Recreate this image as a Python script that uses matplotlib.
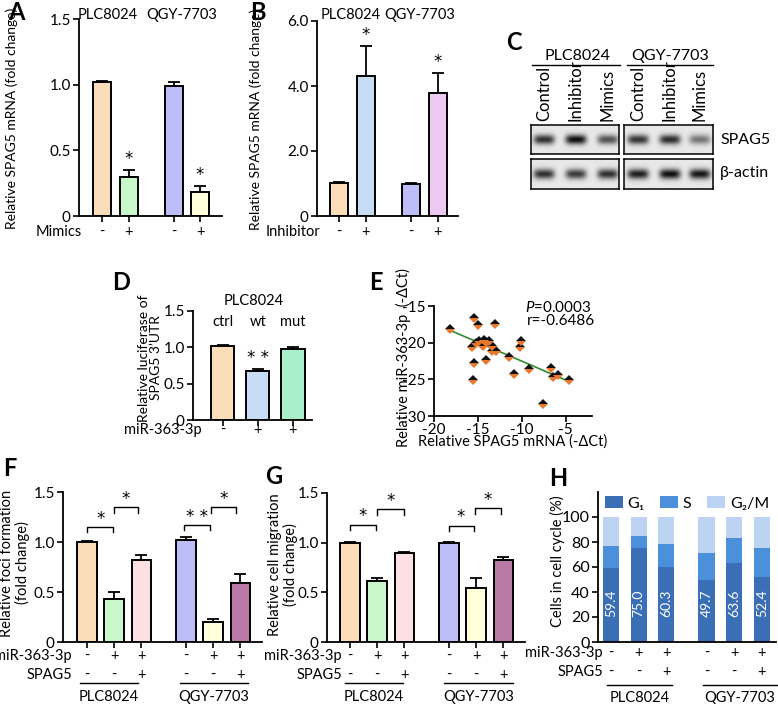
import numpy as np
import matplotlib
matplotlib.use("Agg")
import matplotlib.pyplot as plt
from matplotlib.transforms import blended_transform_factory

plt.rcParams['font.family'] = ['Lato', 'DejaVu Sans']
plt.rcParams['font.size'] = 10.5
plt.rcParams['axes.unicode_minus'] = False
plt.rcParams['mathtext.fontset'] = 'custom'
plt.rcParams['mathtext.it'] = 'Lato:italic'
plt.rcParams['mathtext.rm'] = 'Lato'

# ---- data ----
cells = ['PLC8024', 'QGY-7703']
a_vals = [1.02, 0.30, 0.99, 0.18]
a_err = [0.01, 0.05, 0.03, 0.05]
a_signs = ['-', '+', '-', '+']
b_vals = [1.02, 4.30, 1.00, 3.77]
b_err = [0.02, 0.93, 0.02, 0.63]
b_signs = ['-', '+', '-', '+']

c_lanes = ['Control', 'Inhibitor', 'Mimics']
c_spag5 = [[0.80, 0.95, 0.65], [0.78, 0.82, 0.50]]
c_actin = [[0.80, 0.75, 0.80], [0.88, 0.95, 0.92]]

d_groups = ['ctrl', 'wt', 'mut']
d_vals = [1.02, 0.68, 0.98]
d_err = [0.01, 0.02, 0.03]
d_signs = ['-', '+', '+']

e_x = [-18.2, -15.0, -15.4, -13.0, -15.7, -14.9, -14.3, -13.7, -14.4, -13.4,
       -13.4, -12.95, -15.45, -14.1, -15.6, -11.4, -10.1, -10.2, -10.9, -9.2,
       -6.7, -6.4, -5.9, -4.6, -7.6, -15.2, -14.05]
e_y = [-18.2, -17.6, -16.7, -17.4, -20.6, -19.8, -19.6, -19.8, -20.5, -20.5,
       -21.1, -21.1, -22.8, -22.3, -25.1, -22.0, -19.75, -20.6, -24.3, -23.6,
       -23.5, -24.7, -24.4, -25.1, -28.3, -20.1, -19.9]
e_fit_x = [-18.2, -4.6]
e_fit_y = [-18.3, -25.3]

f_vals = [1.00, 0.43, 0.82, 1.02, 0.20, 0.59]
f_err = [0.01, 0.07, 0.05, 0.03, 0.03, 0.09]
g_vals = [1.00, 0.61, 0.90, 1.00, 0.54, 0.83]
g_err = [0.01, 0.03, 0.01, 0.01, 0.10, 0.03]
mir_signs = ['-', '+', '+', '-', '+', '+']
spag5_signs = ['-', '-', '+', '-', '-', '+']

h_g1 = [59.4, 75.0, 60.3, 49.7, 63.6, 52.4]
h_s = [17.4, 10.0, 18.1, 21.5, 19.8, 22.8]
h_g2m = [100 - a - b for a, b in zip(h_g1, h_s)]

# ---- layout helpers ----
W, H = 778, 704
fig = plt.figure(figsize=(W / 100, H / 100), dpi=100)
FS = 10.5


def fx(x):
    return x / W


def fy(y):
    return 1 - y / H


def px_axes(x0, y0, x1, y1):
    return fig.add_axes([fx(x0), fy(y1), (x1 - x0) / W, (y1 - y0) / H])


def style(ax, xticks=True):
    for s in ['top', 'right']:
        ax.spines[s].set_visible(False)
    for s in ['left', 'bottom']:
        ax.spines[s].set_linewidth(1.3)
    ax.tick_params(direction='out', length=4, width=1.2, labelsize=11, pad=2)
    if not xticks:
        ax.tick_params(axis='x', length=0)


def row(ax, label, xr, y, xs, signs):
    fig.text(fx(xr), fy(y), label, ha='right', va='center', fontsize=FS)
    tr = blended_transform_factory(ax.transData, fig.transFigure)
    for x, s in zip(xs, signs):
        ax.text(x, fy(y), s, transform=tr, ha='center', va='center', fontsize=FS)


def letter(x, y, t):
    fig.text(fx(x), fy(y), t, fontsize=17, fontweight='bold', ha='center', va='center')


def star_text(ax, x, y, s, **kw):
    ax.annotate(s, (x, y), ha='center', va='center', fontsize=12,
                family='DejaVu Sans', annotation_clip=False, **kw)


def stars(ax, xs, tops, texts, off=8):
    for x, t, s in zip(xs, tops, texts):
        if s:
            star_text(ax, x, t, s, xytext=(0, off), textcoords='offset points')


def bracket(ax, x1, x2, y, h, s):
    ax.plot([x1, x1, x2, x2], [y, y + h, y + h, y], color='k', lw=1, clip_on=False)
    star_text(ax, (x1 + x2) / 2, y + h, s, xytext=(0, 6), textcoords='offset points')


def bars(ax, pos, vals, errs, colors, width):
    ax.bar(pos, vals, width=width, color=colors, edgecolor='k', linewidth=1.4, zorder=2)
    ax.errorbar(pos, vals, yerr=[np.zeros(len(vals)), errs], fmt='none',
                ecolor='k', elinewidth=1.3, capsize=4, capthick=1.3, zorder=1)


peach, green, lav, yellow = '#FCDDBA', '#C9F7C9', '#BDBDF7', '#FFFFDC'
lblue, lviolet, aqua = '#C6DCF5', '#EDC9F2', '#A9F0CA'
pink, purple = '#FDE0E3', '#B97AA8'

# ---- A ----
pos4 = np.array([0, 1, 2.7, 3.7])
ax = px_axes(79, 19, 222, 216)
bars(ax, pos4, a_vals, a_err, [peach, green, lav, yellow], 0.68)
ax.set_ylim(0, 1.5)
ax.set_xlim(-0.87, 4.53)
ax.set_yticks([0, 0.5, 1.0, 1.5], ['0', '0.5', '1.0', '1.5'])
ax.set_xticks(pos4, [''] * 4)
style(ax)
stars(ax, pos4, np.add(a_vals, a_err), ['', '*', '', '*'])
row(ax, 'Mimics', 82, 232, pos4, a_signs)
fig.text(fx(108), fy(15), cells[0], ha='center', va='center', fontsize=FS)
fig.text(fx(182), fy(15), cells[1], ha='center', va='center', fontsize=FS)
fig.text(fx(12), fy(118), 'Relative SPAG5 mRNA (fold change)', rotation=90,
         ha='center', va='center', fontsize=10)
letter(16, 13, 'A')

# ---- B ----
ax = px_axes(317, 21, 458, 216)
bars(ax, pos4, b_vals, b_err, [peach, lblue, lav, lviolet], 0.68)
ax.set_ylim(0, 6)
ax.set_xlim(-0.82, 4.45)
ax.set_yticks([0, 2, 4, 6], ['0', '2.0', '4.0', '6.0'])
ax.set_xticks(pos4, [''] * 4)
style(ax)
stars(ax, pos4, np.add(b_vals, b_err), ['', '*', '', '*'])
row(ax, 'Inhibitor', 320, 232, pos4, b_signs)
fig.text(fx(351), fy(15), cells[0], ha='center', va='center', fontsize=FS)
fig.text(fx(420), fy(15), cells[1], ha='center', va='center', fontsize=FS)
fig.text(fx(256), fy(119), 'Relative SPAG5 mRNA (fold change)', rotation=90,
         ha='center', va='center', fontsize=10)
letter(258, 13, 'B')


# ---- C (western blot) ----
def blot(x0, y0, x1, y1, strengths, centers):
    bx = px_axes(x0, y0, x1, y1)
    nx, ny = 200, 60
    xx = np.linspace(0, 1, nx)
    yy = np.linspace(0, 1, ny)
    img = np.full((ny, nx), 0.91)
    for c, s in zip(centers, strengths):
        prof = np.exp(-((xx - c) / 0.12) ** 4)[None, :] * np.exp(-((yy - 0.5) / 0.17) ** 2)[:, None]
        img -= s * 0.9 * prof
    bx.imshow(img, cmap='gray', vmin=0, vmax=1, aspect='auto',
              extent=[0, 1, 0, 1], interpolation='bilinear')
    bx.set_xticks([])
    bx.set_yticks([])
    for s in bx.spines.values():
        s.set_linewidth(1.1)


lane_l = [544, 576, 608]
lane_r = [638, 670, 700]
blot(531, 125, 619, 154, c_spag5[0], [(v - 531) / 88 for v in lane_l])
blot(531, 159, 619, 189, c_actin[0], [(v - 531) / 88 for v in lane_l])
blot(624, 125, 713, 154, c_spag5[1], [(v - 624) / 89 for v in lane_r])
blot(624, 159, 713, 189, c_actin[1], [(v - 624) / 89 for v in lane_r])
for lanes in (lane_l, lane_r):
    for x, t in zip(lanes, c_lanes):
        fig.text(fx(x), fy(121), t, rotation=90, ha='center', va='bottom', fontsize=12)
fig.add_artist(plt.Line2D([fx(532), fx(620)], [fy(65), fy(65)], color='k', lw=1))
fig.add_artist(plt.Line2D([fx(627), fx(713)], [fy(65), fy(65)], color='k', lw=1))
fig.text(fx(577), fy(56), cells[0], ha='center', va='center', fontsize=11.5)
fig.text(fx(670), fy(56), cells[1], ha='center', va='center', fontsize=11.5)
fig.text(fx(720), fy(140), 'SPAG5', ha='left', va='center', fontsize=11.5)
fig.text(fx(720), fy(173), 'β-actin', ha='left', va='center', fontsize=11.5)
letter(514, 43, 'C')

# ---- D ----
pos3 = np.arange(3)
ax = px_axes(193, 311, 312, 420)
bars(ax, pos3, d_vals, d_err, [peach, lblue, aqua], 0.66)
ax.set_ylim(0, 1.5)
ax.set_xlim(-0.84, 2.54)
ax.set_yticks([0, 0.5, 1.0, 1.5], ['0', '0.5', '1.0', '1.5'])
ax.set_xticks(pos3, [''] * 3)
style(ax)
stars(ax, pos3, np.add(d_vals, d_err), ['', '* *', ''])
tr = blended_transform_factory(ax.transData, fig.transFigure)
for x, t in zip(pos3, d_groups):
    ax.text(x, fy(322), t, transform=tr, ha='center', va='center', fontsize=FS)
fig.text(fx(254), fy(301), cells[0], ha='center', va='center', fontsize=FS)
row(ax, 'miR-363-3p', 202, 430, pos3, d_signs)
fig.text(fx(150), fy(358), 'Relative luciferase of\nSPAG5 3\u2019UTR', rotation=90,
         ha='center', va='center', fontsize=10, linespacing=1.0)
letter(121, 283, 'D')

# ---- E ----
ax = px_axes(434, 306, 592, 416)
ax.plot(e_fit_x, e_fit_y, color='#2E8B2E', lw=1.2, zorder=1)
ax.plot(e_x, e_y, linestyle='none', marker='D', markersize=5, fillstyle='top',
        markerfacecolor='#111111', markerfacecoloralt='#E8782E',
        markeredgewidth=0, zorder=2)
ax.set_xlim(-20, -2)
ax.set_ylim(-30, -15)
ax.set_xticks([-20, -15, -10, -5])
ax.set_yticks([-30, -25, -20, -15])
style(ax)
ax.tick_params(axis='x', pad=1)
fig.text(fx(525), fy(308), '$P$=0.0003', ha='left', va='center', fontsize=11)
fig.text(fx(527), fy(321), 'r=-0.6486', ha='left', va='center', fontsize=11)
fig.text(fx(513), fy(442), 'Relative SPAG5 mRNA (-\u0394Ct)', ha='center', va='center', fontsize=FS)
fig.text(fx(403), fy(358), 'Relative miR-363-3p  (-\u0394Ct)', rotation=90,
         ha='center', va='center', fontsize=FS)
letter(376, 283, 'E')

# ---- F ----
pos6 = np.array([0, 1, 2, 3.65, 4.65, 5.65])
six_colors = [peach, green, pink, lav, yellow, purple]


def group_lines(y_line, y_text, spans):
    for (x0, x1), name in zip(spans, cells):
        fig.add_artist(plt.Line2D([fx(x0), fx(x1)], [fy(y_line), fy(y_line)], color='k', lw=1))
        fig.text(fx((x0 + x1) / 2), fy(y_text), name, ha='center', va='center', fontsize=FS)


ax = px_axes(63, 492, 262, 642)
bars(ax, pos6, f_vals, f_err, six_colors, 0.72)
ax.set_ylim(0, 1.5)
ax.set_xlim(-0.89, 6.45)
ax.set_yticks([0, 0.5, 1.0, 1.5], ['0', '0.5', '1.0', '1.5'])
ax.set_xticks(pos6, [''] * 6)
style(ax)
bracket(ax, 0, 0.96, 1.10, 0.05, '*')
bracket(ax, 0.98, 1.88, 1.29, 0.06, '*')
bracket(ax, 3.58, 4.54, 1.12, 0.05, '* *')
bracket(ax, 4.58, 5.5, 1.29, 0.06, '*')
row(ax, 'miR-363-3p', 72, 656, pos6, mir_signs)
row(ax, 'SPAG5', 72, 675, pos6, spag5_signs)
group_lines(683, 697, [(80, 138), (180, 248)])
fig.text(fx(15), fy(563), 'Relative foci formation\n(fold change)', rotation=90,
         ha='center', va='center', fontsize=FS, linespacing=1.0)
letter(10, 469, 'F')

# ---- G ----
ax = px_axes(327, 493, 525, 642)
bars(ax, pos6, g_vals, g_err, six_colors, 0.72)
ax.set_ylim(0, 1.5)
ax.set_xlim(-0.85, 6.45)
ax.set_yticks([0, 0.5, 1.0, 1.5], ['0', '0.5', '1.0', '1.5'])
ax.set_xticks(pos6, [''] * 6)
style(ax)
bracket(ax, 0, 0.96, 1.13, 0.05, '*')
bracket(ax, 0.98, 1.98, 1.28, 0.06, '*')
bracket(ax, 3.63, 4.56, 1.12, 0.05, '*')
bracket(ax, 4.6, 5.55, 1.29, 0.06, '*')
row(ax, 'miR-363-3p', 342, 656, pos6, mir_signs)
row(ax, 'SPAG5', 342, 675, pos6, spag5_signs)
group_lines(683, 697, [(345, 403), (444, 513)])
fig.text(fx(283), fy(565), 'Relative cell migration\n(fold change)', rotation=90,
         ha='center', va='center', fontsize=FS, linespacing=1.0)
letter(274, 476, 'G')

# ---- H ----
posh = np.array([0, 1, 2, 3.45, 4.45, 5.45])
ax = px_axes(598, 492, 776, 642)
c1, c2, c3 = '#3A6FB5', '#4C8FDB', '#BCD3F2'
ax.bar(posh, h_g1, width=0.58, color=c1, label='G\u2081')
ax.bar(posh, h_s, bottom=h_g1, width=0.58, color=c2, label='S')
ax.bar(posh, h_g2m, bottom=np.add(h_g1, h_s), width=0.58, color=c3, label='G\u2082/M')
for x, v in zip(posh, h_g1):
    ax.text(x, 31, f'{v:.1f}', rotation=90, ha='center', va='center', color='white', fontsize=10)
ax.set_ylim(0, 120)
ax.set_xlim(-0.47, 5.96)
ax.set_yticks([0, 20, 40, 60, 80, 100])
ax.set_xticks([])
style(ax, xticks=False)
ax.tick_params(axis='y', labelsize=11.5)
ax.legend(loc='upper center', ncol=3, frameon=False, fontsize=11.5, handlelength=1.1,
          handleheight=0.8, handletextpad=0.3, columnspacing=1.0,
          bbox_to_anchor=(0.5, 1.07))
row(ax, 'miR-363-3p', 603, 653, posh, mir_signs)
row(ax, 'SPAG5', 603, 672, posh, spag5_signs)
group_lines(685, 698, [(607, 672), (703, 777)])
fig.text(fx(557), fy(561), 'Cells in cell cycle (%)', rotation=90,
         ha='center', va='center', fontsize=FS)
letter(558, 478, 'H')

fig.savefig('out.png', dpi=100)
